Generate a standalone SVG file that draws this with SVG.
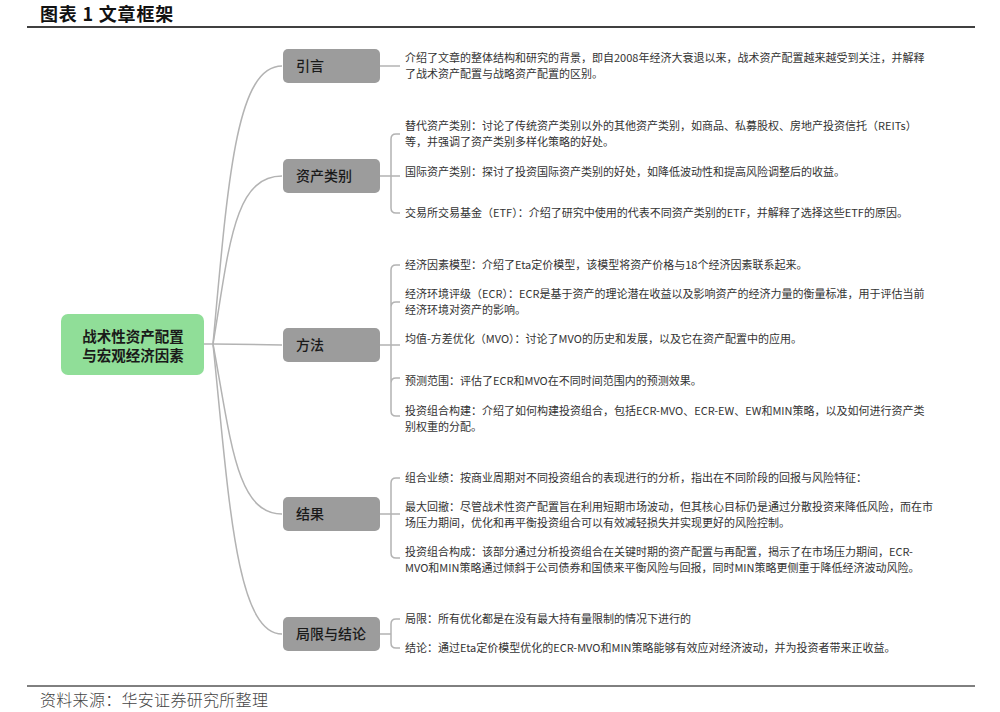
<svg xmlns="http://www.w3.org/2000/svg" width="1000" height="712" viewBox="0 0 1000 712">
<style>
.bg{fill:#ffffff}
.rule{stroke:#000;stroke-width:1.5}
.title{font-family:"Noto Sans CJK SC",sans-serif;font-weight:700;font-size:18px;fill:#111;letter-spacing:0.8px}
.src{font-family:"Noto Sans CJK SC",serif;font-weight:300;font-size:16px;fill:#444;letter-spacing:0.3px}
.conn{fill:none;stroke:#b3b3b3;stroke-width:1.5}
.root rect{fill:#90de98}
.root text{font-family:"Noto Sans CJK SC",sans-serif;font-weight:700;font-size:14.5px;fill:#1a1a1a;text-anchor:middle}
.cat rect{fill:#9c9c9c}
.cat text{font-family:"Noto Sans CJK SC",sans-serif;font-weight:500;font-size:14px;fill:#1a1a1a}
.item{font-family:"Noto Sans CJK SC",sans-serif;font-size:11px;fill:#333}
</style>
<rect class="bg" x="0" y="0" width="1000" height="712"/>
<text class="title" x="40" y="21" xml:space="preserve">图表 1 文章框架</text>
<line class="rule" x1="27" y1="27" x2="975" y2="27"/>
<line class="rule" x1="27" y1="686" x2="975" y2="686" style="stroke-width:1"/>
<text class="src" x="40" y="706">资料来源：华安证券研究所整理</text>

<g id="connectors">
  <path class="conn" d="M204,344 H213"/>
  <path class="conn" d="M213,344 C228,180 236,66 282,66"/>
  <path class="conn" d="M213,344 C229,250 233,176 282,176"/>
  <path class="conn" d="M213,344 L282,345"/>
  <path class="conn" d="M213,344 C231,440 236,514 282,514"/>
  <path class="conn" d="M213,344 C229,500 236,634 282,634"/>
  <path class="conn" d="M380,66 H400"/>
  <path class="conn" d="M380,176 H400 M391,176 V139 Q391,134 396,134 H400 M391,176 V208 Q391,213 396,213 H400"/>
  <path class="conn" d="M380,345 H400 M391,345 V270 Q391,265 396,265 H400 M391,307 Q391,302 396,302 H400 M391,345 V411 Q391,416 396,416 H400 M391,383 Q391,378 396,378 H400"/>
  <path class="conn" d="M380,514 H400 M391,514 V483 Q391,478 396,478 H400 M391,514 V553 Q391,558 396,558 H400"/>
  <path class="conn" d="M380,634 H391 M391,634 V624 Q391,619 396,619 H400 M391,634 V643 Q391,648 396,648 H400"/>
</g>

<g id="root" class="root">
  <rect x="61" y="314" width="143" height="61" rx="7"/>
  <text x="133" y="342">战术性资产配置</text>
  <text x="133" y="361">与宏观经济因素</text>
</g>

<g id="node-intro" class="cat">
  <rect x="283" y="49" width="97" height="34" rx="5"/>
  <text x="296" y="71">引言</text>
</g>
<g id="node-assets" class="cat">
  <rect x="283" y="159" width="97" height="34" rx="5"/>
  <text x="296" y="181">资产类别</text>
</g>
<g id="node-method" class="cat">
  <rect x="283" y="328" width="97" height="34" rx="5"/>
  <text x="296" y="350">方法</text>
</g>
<g id="node-results" class="cat">
  <rect x="283" y="497" width="97" height="34" rx="5"/>
  <text x="296" y="519">结果</text>
</g>
<g id="node-limits" class="cat">
  <rect x="283" y="617" width="97" height="34" rx="5"/>
  <text x="296" y="639">局限与结论</text>
</g>

<g id="text-intro">
  <text class="item" x="405" y="62">介绍了文章的整体结构和研究的背景，即自2008年经济大衰退以来，战术资产配置越来越受到关注，并解释</text>
  <text class="item" x="405" y="78">了战术资产配置与战略资产配置的区别。</text>
</g>
<g id="text-assets">
  <text class="item" x="405" y="130">替代资产类别：讨论了传统资产类别以外的其他资产类别，如商品、私募股权、房地产投资信托（REITs）</text>
  <text class="item" x="405" y="146">等，并强调了资产类别多样化策略的好处。</text>
  <text class="item" x="405" y="176">国际资产类别：探讨了投资国际资产类别的好处，如降低波动性和提高风险调整后的收益。</text>
  <text class="item" x="405" y="217">交易所交易基金（ETF）：介绍了研究中使用的代表不同资产类别的ETF，并解释了选择这些ETF的原因。</text>
</g>
<g id="text-method">
  <text class="item" x="405" y="269">经济因素模型：介绍了Eta定价模型，该模型将资产价格与18个经济因素联系起来。</text>
  <text class="item" x="405" y="298">经济环境评级（ECR）：ECR是基于资产的理论潜在收益以及影响资产的经济力量的衡量标准，用于评估当前</text>
  <text class="item" x="405" y="314">经济环境对资产的影响。</text>
  <text class="item" x="405" y="343">均值-方差优化（MVO）：讨论了MVO的历史和发展，以及它在资产配置中的应用。</text>
  <text class="item" x="405" y="385">预测范围：评估了ECR和MVO在不同时间范围内的预测效果。</text>
  <text class="item" x="405" y="415">投资组合构建：介绍了如何构建投资组合，包括ECR-MVO、ECR-EW、EW和MIN策略，以及如何进行资产类</text>
  <text class="item" x="405" y="431">别权重的分配。</text>
</g>
<g id="text-results">
  <text class="item" x="405" y="482">组合业绩：按商业周期对不同投资组合的表现进行的分析，指出在不同阶段的回报与风险特征：</text>
  <text class="item" x="405" y="511">最大回撤：尽管战术性资产配置旨在利用短期市场波动，但其核心目标仍是通过分散投资来降低风险，而在市</text>
  <text class="item" x="405" y="527">场压力期间，优化和再平衡投资组合可以有效减轻损失并实现更好的风险控制。</text>
  <text class="item" x="405" y="556">投资组合构成：该部分通过分析投资组合在关键时期的资产配置与再配置，揭示了在市场压力期间，ECR-</text>
  <text class="item" x="405" y="572">MVO和MIN策略通过倾斜于公司债券和国债来平衡风险与回报，同时MIN策略更侧重于降低经济波动风险。</text>
</g>
<g id="text-limits">
  <text class="item" x="405" y="623">局限：所有优化都是在没有最大持有量限制的情况下进行的</text>
  <text class="item" x="405" y="652">结论：通过Eta定价模型优化的ECR-MVO和MIN策略能够有效应对经济波动，并为投资者带来正收益。</text>
</g>
</svg>
